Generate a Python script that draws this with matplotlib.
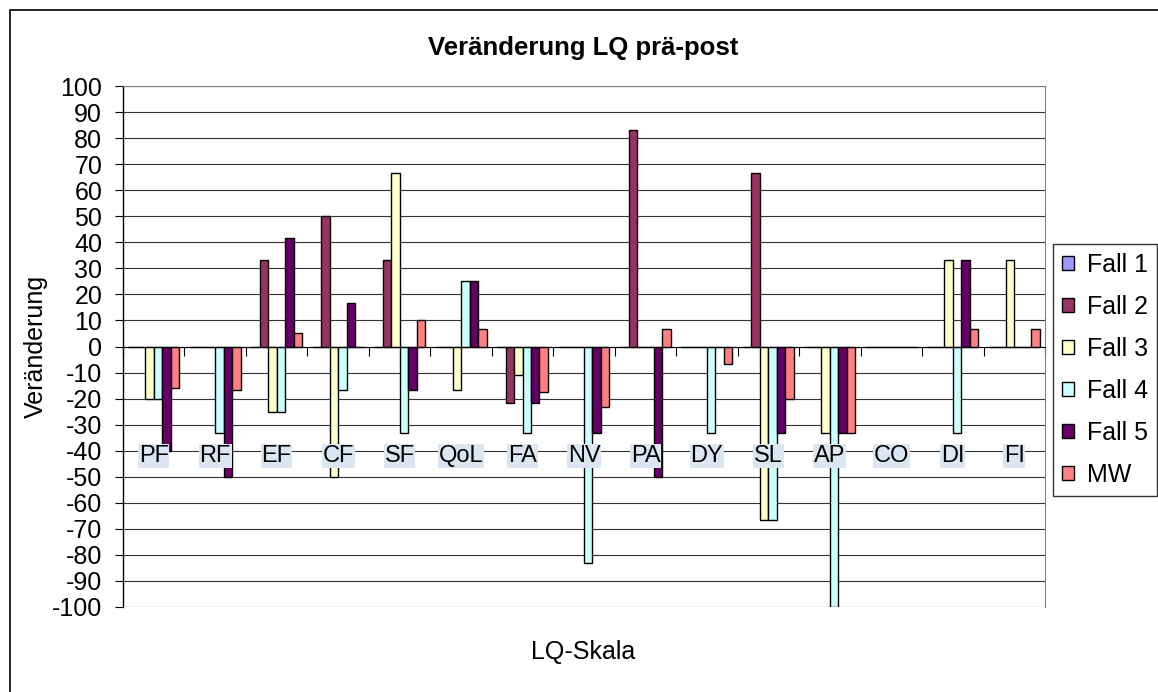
import numpy as np
import matplotlib
matplotlib.use("Agg")
import matplotlib.pyplot as plt
from matplotlib.patches import Rectangle

plt.rcParams['font.family'] = ['Liberation Sans', 'DejaVu Sans']
plt.rcParams['axes.unicode_minus'] = False

# Daten (Veränderung LQ prä-post)
skalen = ['PF', 'RF', 'EF', 'CF', 'SF', 'QoL', 'FA', 'NV', 'PA', 'DY', 'SL', 'AP', 'CO', 'DI', 'FI']
fall_1 = [0, 0, 0, 0, 0, 0, 0, 0, 0, 0, 0, 0, 0, 0, 0]
fall_2 = [0, 0, 33.3, 50, 33.3, 0, -21.7, 0, 83.3, 0, 66.7, 0, 0, 0, 0]
fall_3 = [-20, 0, -25, -50, 66.7, -16.7, -11.1, 0, 0, 0, -66.7, -33.3, 0, 33.3, 33.3]
fall_4 = [-20, -33.3, -25, -16.7, -33.3, 25, -33.3, -83.3, 0, -33.3, -66.7, -100, 0, -33.3, 0]
fall_5 = [-40, -50, 41.7, 16.7, -16.7, 25, -21.7, -33.3, -50, 0, -33.3, -33.3, 0, 33.3, 0]
mw = [-16, -16.7, 5, 0, 10, 6.7, -17.6, -23.3, 6.7, -6.7, -20, -33.3, 0, 6.7, 6.7]

serien = [fall_1, fall_2, fall_3, fall_4, fall_5, mw]
namen = ['Fall 1', 'Fall 2', 'Fall 3', 'Fall 4', 'Fall 5', 'MW']
farben = ['#9999FF', '#993366', '#FFFFCC', '#CCFFFF', '#660066', '#FF8080']

W, H = 1158, 692
fig = plt.figure(figsize=(W / 100, H / 100), dpi=100)
ax = fig.add_axes([123 / W, 1 - 607 / H, (1045 - 123) / W, (607 - 86) / H])

x = np.arange(len(skalen)) + 0.5
bw = 0.138
for j, (werte, name, farbe) in enumerate(zip(serien, namen, farben)):
    ax.bar(x + (j - 2.5) * bw, werte, width=bw, color=farbe, edgecolor='black',
           linewidth=1.0, label=name, zorder=3)

ax.set_xlim(0, len(skalen))
ax.set_ylim(-100, 100)
ax.set_yticks(np.arange(-100, 101, 10))
ax.tick_params(axis='y', labelsize=18, length=6, width=0.8, pad=9, direction='out')
ax.yaxis.grid(True, color='#333333', linewidth=0.8, zorder=0)
ax.set_axisbelow(True)

ax.set_xticks(np.arange(0, len(skalen) + 1))
ax.set_xticklabels([])
ax.tick_params(axis='x', length=6.5, width=0.8, direction='out')
ax.spines['bottom'].set_position(('data', 0))
ax.spines['bottom'].set_zorder(4)
ax.spines['left'].set_linewidth(1.0)
ax.spines['right'].set_color('#808080')
ax.spines['top'].set_color('#808080')

# Kategorienamen mit hellblauem Hintergrund
for xi, s in zip(x, skalen):
    ax.text(xi, -42, s, ha='center', va='center', fontsize=17, zorder=6,
            bbox=dict(boxstyle='square,pad=0.03', facecolor='#DCE6F2', edgecolor='none'))

fig.text(583 / W, 1 - 48 / H, 'Veränderung LQ prä-post', ha='center', va='center',
         fontsize=18.5, fontweight='bold')
fig.text(36 / W, 1 - 346 / H, 'Veränderung', rotation=90, ha='center', va='center', fontsize=18)
fig.text(583 / W, 1 - 652 / H, 'LQ-Skala', ha='center', va='center', fontsize=18)

leg = ax.legend(loc='upper left', bbox_to_anchor=(1053 / W, 1 - 244 / H),
                bbox_transform=fig.transFigure, fontsize=18, frameon=True, fancybox=False,
                handlelength=0.5, handleheight=0.5, handletextpad=0.5, labelspacing=0.72,
                borderpad=0.35, borderaxespad=0)
leg.get_frame().set_edgecolor('black')
leg.get_frame().set_linewidth(1.0)

fig.patches.append(Rectangle((10 / W, -0.01), 1.02, 1 - 10 / H + 0.01, transform=fig.transFigure,
                             fill=False, edgecolor='black', linewidth=1.2, clip_on=False))

fig.savefig('out.png', dpi=100)
